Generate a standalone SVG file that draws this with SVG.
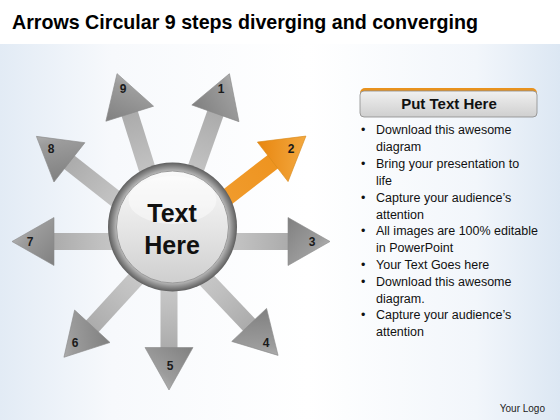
<svg xmlns="http://www.w3.org/2000/svg" width="560" height="420" viewBox="0 0 560 420">
<defs>
<linearGradient id="bg" x1="0" y1="0" x2="1" y2="0">
<stop offset="0" stop-color="#e2ebf5"/>
<stop offset="0.2" stop-color="#f7f9fc"/>
<stop offset="0.55" stop-color="#ffffff"/>
<stop offset="0.85" stop-color="#f2f6fb"/>
<stop offset="1" stop-color="#dce7f3"/>
</linearGradient>
<linearGradient id="shaft" x1="0" y1="0" x2="1" y2="0">
<stop offset="0" stop-color="#d8d8d8"/>
<stop offset="0.6" stop-color="#c0c0c0"/>
<stop offset="1" stop-color="#ababab"/>
</linearGradient>
<linearGradient id="head" x1="0" y1="0" x2="1" y2="1">
<stop offset="0" stop-color="#808080"/>
<stop offset="0.6" stop-color="#9c9c9c"/>
<stop offset="1" stop-color="#c6c6c6"/>
</linearGradient>
<linearGradient id="oshaft" x1="0" y1="0" x2="1" y2="0">
<stop offset="0" stop-color="#f3a33a"/>
<stop offset="1" stop-color="#ee9420"/>
</linearGradient>
<linearGradient id="ohead" x1="0" y1="0" x2="1" y2="1">
<stop offset="0" stop-color="#e8860f"/>
<stop offset="1" stop-color="#f7b450"/>
</linearGradient>
<radialGradient id="ring" cx="0.5" cy="0.5" r="0.5">
<stop offset="0.86" stop-color="#bdbdbd"/>
<stop offset="0.93" stop-color="#8c8c8c"/>
<stop offset="1" stop-color="#5e5e5e"/>
</radialGradient>
<linearGradient id="face" x1="0" y1="0" x2="0" y2="1">
<stop offset="0" stop-color="#fafafa"/>
<stop offset="0.5" stop-color="#e6e6e6"/>
<stop offset="1" stop-color="#cfcfcf"/>
</linearGradient>
<linearGradient id="hdr" x1="0" y1="0" x2="0" y2="1">
<stop offset="0" stop-color="#f0f0f0"/>
<stop offset="1" stop-color="#cfcfcf"/>
</linearGradient>
</defs>
<style>
.num{font-family:"Liberation Sans",Arial,sans-serif;font-weight:bold;font-size:12px;fill:#1a1a1a;text-anchor:middle;dominant-baseline:central}
.blt{font-family:"Liberation Sans",Arial,sans-serif;font-size:12.5px;fill:#111}
.sh{fill:url(#shaft)}
.hd{fill:url(#head);stroke:#8a8a8a;stroke-width:0.6}
</style>
<rect width="560" height="420" fill="url(#bg)"/>
<rect width="560" height="44" fill="#ffffff"/>
<text x="12" y="29" font-family="Liberation Sans,Arial,sans-serif" font-weight="bold" font-size="21" fill="#000" textLength="466" lengthAdjust="spacingAndGlyphs">Arrows Circular 9 steps diverging and converging</text>
<g id="arrows">
<g id="arrow1" transform="translate(170,241.5) rotate(-70.5)"><rect class="sh" x="0" y="-8.5" width="137" height="17"/><polygon class="hd" points="136,-25 178,0 136,25"/></g>
<g id="arrow9" transform="translate(170,241.5) rotate(-107.5)"><rect class="sh" x="0" y="-8.5" width="135" height="17"/><polygon class="hd" points="134,-25 176,0 134,25"/></g>
<g id="arrow8" transform="translate(170,241.5) rotate(-141.8)"><rect class="sh" x="0" y="-8.5" width="130" height="17"/><polygon class="hd" points="128,-25 170,0 128,25"/></g>
<g id="arrow7" transform="translate(170,241.5) rotate(180)"><rect class="sh" x="0" y="-8.5" width="118" height="17"/><polygon class="hd" points="116,-24 158,0 116,24"/></g>
<g id="arrow6" transform="translate(170,241.5) rotate(132.5)"><rect class="sh" x="0" y="-8.5" width="117" height="17"/><polygon class="hd" points="115,-24 157,0 115,24"/></g>
<g id="arrow5" transform="translate(169,241.5) rotate(90)"><rect class="sh" x="0" y="-8.5" width="108" height="17"/><polygon class="hd" points="106,-24 148.5,0 106,24"/></g>
<g id="arrow4" transform="translate(170,241.5) rotate(46.5)"><rect class="sh" x="0" y="-8.5" width="117" height="17"/><polygon class="hd" points="115,-24 157,0 115,24"/></g>
<g id="arrow3" transform="translate(169,241.5)"><rect class="sh" x="0" y="-8.5" width="121" height="17"/><polygon class="hd" points="119,-24 161,0 119,24"/></g>
<g id="arrow2" transform="translate(170,241.5) rotate(-37.8)"><rect x="0" y="-8.5" width="132" height="17" fill="url(#oshaft)"/><polygon points="130,-25 172,0 130,25" fill="url(#ohead)" stroke="#d98a1a" stroke-width="0.6"/></g>
</g>
<g id="labels">
<text class="num" x="221" y="89">1</text>
<text class="num" x="291" y="149">2</text>
<text class="num" x="312" y="242">3</text>
<text class="num" x="266" y="343">4</text>
<text class="num" x="170" y="366">5</text>
<text class="num" x="75" y="343">6</text>
<text class="num" x="30" y="242">7</text>
<text class="num" x="51" y="149">8</text>
<text class="num" x="123" y="89">9</text>
</g>
<g id="center">
<circle cx="172.5" cy="227" r="64.5" fill="url(#ring)"/>
<circle cx="172.5" cy="227" r="56" fill="url(#face)" stroke="#9a9a9a" stroke-width="1"/>
<ellipse cx="172.5" cy="200" rx="44" ry="24" fill="#ffffff" opacity="0.45"/>
<text x="172" y="222" font-family="Liberation Sans,Arial,sans-serif" font-weight="bold" font-size="25" fill="#111" text-anchor="middle">Text</text>
<text x="172" y="254" font-family="Liberation Sans,Arial,sans-serif" font-weight="bold" font-size="25" fill="#111" text-anchor="middle">Here</text>
</g>
<g id="panel">
<rect x="360" y="88" width="177" height="29" rx="5" fill="#e8921e"/>
<rect x="360" y="91" width="177" height="26" rx="4" fill="url(#hdr)" stroke="#8a8a8a" stroke-width="0.8"/>
<text x="449" y="109" font-family="Liberation Sans,Arial,sans-serif" font-weight="bold" font-size="15" fill="#111" text-anchor="middle">Put Text Here</text>
<g class="blt">
<text x="361" y="134">•</text><text x="376" y="134">Download this awesome</text>
<text x="376" y="151">diagram</text>
<text x="361" y="168">•</text><text x="376" y="168">Bring your presentation to</text>
<text x="376" y="185">life</text>
<text x="361" y="202">•</text><text x="376" y="202">Capture your audience’s</text>
<text x="376" y="219">attention</text>
<text x="361" y="235">•</text><text x="376" y="235">All images are 100% editable</text>
<text x="376" y="252">in PowerPoint</text>
<text x="361" y="269">•</text><text x="376" y="269">Your Text Goes here</text>
<text x="361" y="286">•</text><text x="376" y="286">Download this awesome</text>
<text x="376" y="303">diagram.</text>
<text x="361" y="319">•</text><text x="376" y="319">Capture your audience’s</text>
<text x="376" y="336">attention</text>
</g>
<text x="545" y="412" font-family="Liberation Sans,Arial,sans-serif" font-size="10" fill="#222" text-anchor="end">Your Logo</text>
</g>
</svg>
